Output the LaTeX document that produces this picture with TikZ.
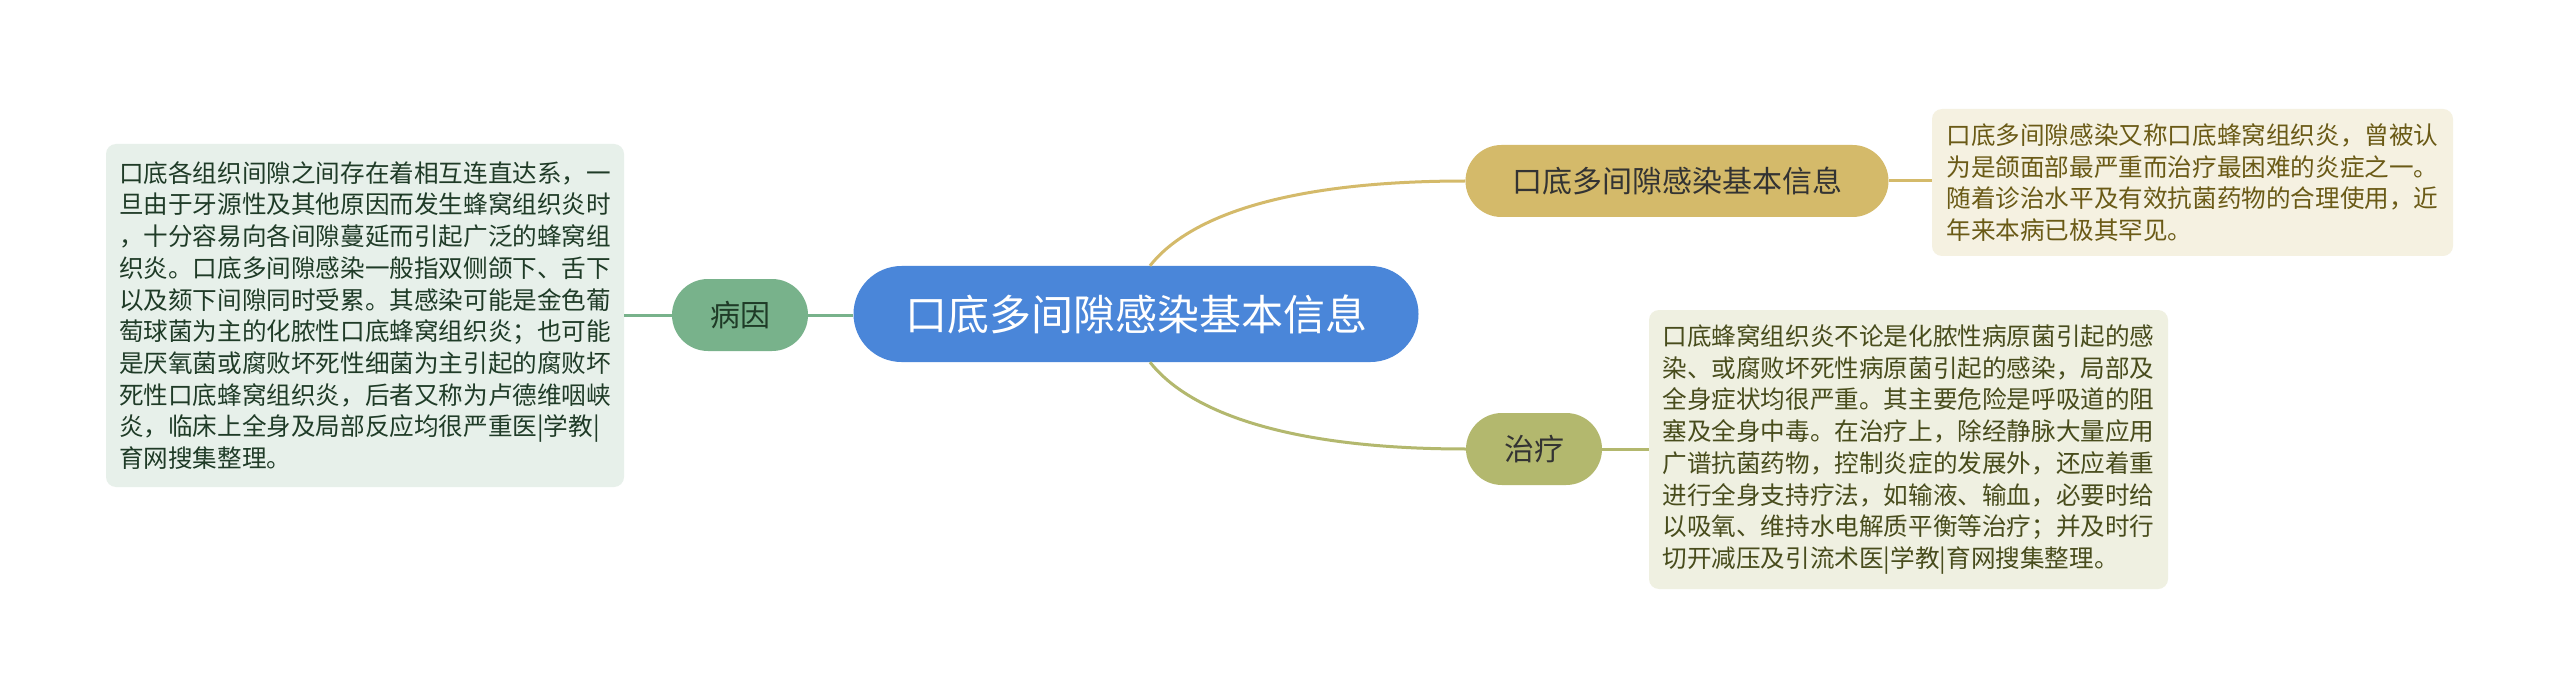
\documentclass[tikz,border=0pt]{standalone}
\usepackage{fontspec}
\setmainfont{Noto Sans CJK SC}
\usepackage{tikz}
\usetikzlibrary{positioning}

\definecolor{rootblue}{HTML}{4A86D9}
\definecolor{infogold}{HTML}{D4BA6A}
\definecolor{causegreen}{HTML}{78B28B}
\definecolor{treatolive}{HTML}{B3B86E}
\definecolor{causefill}{HTML}{E7F0EA}
\definecolor{infofill}{HTML}{F5F1E1}
\definecolor{treatfill}{HTML}{EFF0E1}
\definecolor{causeink}{HTML}{1F3B27}
\definecolor{infoink}{HTML}{6A5A16}
\definecolor{treatink}{HTML}{484C1C}

\begin{document}
\begin{tikzpicture}[x=1pt, y=-1pt,
    topic/.style={inner sep=0pt, font=\fontsize{30}{36}\selectfont},
    notebox/.style={rounded corners=10pt, inner sep=0pt, align=left,
        font=\fontsize{24.6}{31.7}\selectfont},
    link/.style={line width=3pt}]
            \useasboundingbox[fill=white] (0,0) rectangle (2560,695);
            % Nodes
            \node[fill=rootblue, text=white, rounded corners=48pt, inner sep=0pt,
                minimum width=565pt, minimum height=96pt,
                font=\fontsize{42}{50}\selectfont] (root) at (1136,314) {口底多间隙感染基本信息};
            \node[topic, fill=infogold, text=black!80, rounded corners=36pt,
                minimum width=423pt, minimum height=72pt] (info) at (1677,181) {口底多间隙感染基本信息};
            \node[topic, fill=causegreen, text=causeink, rounded corners=36pt,
                minimum width=136pt, minimum height=72pt] (cause) at (740,315) {病因};
            \node[topic, fill=treatolive, text=black!80, rounded corners=36pt,
                minimum width=136pt, minimum height=72pt] (treat) at (1534,449) {治疗};
            % Notes
            \node[notebox, fill=causefill, text=causeink, minimum width=518pt,
                minimum height=343pt] (causetext) at (365,315.5) {口底各组织间隙之间存在着相互连直达系，一\\
                旦由于牙源性及其他原因而发生蜂窝组织炎时\\
                ，十分容易向各间隙蔓延而引起广泛的蜂窝组\\
                织炎。口底多间隙感染一般指双侧颌下、舌下\\
                以及颏下间隙同时受累。其感染可能是金色葡\\
                萄球菌为主的化脓性口底蜂窝组织炎；也可能\\
                是厌氧菌或腐败坏死性细菌为主引起的腐败坏\\
                死性口底蜂窝组织炎，后者又称为卢德维咽峡\\
                炎，临床上全身及局部反应均很严重医|学教|\\
                育网搜集整理。};
            \node[notebox, fill=infofill, text=infoink, minimum width=521pt,
                minimum height=147pt] (infotext) at (2192.5,182.5) {口底多间隙感染又称口底蜂窝组织炎，曾被认\\
                为是颌面部最严重而治疗最困难的炎症之一。\\
                随着诊治水平及有效抗菌药物的合理使用，近\\
                年来本病已极其罕见。};
            \node[notebox, fill=treatfill, text=treatink, minimum width=519pt,
                minimum height=279pt] (treattext) at (1908.5,449.5) {口底蜂窝组织炎不论是化脓性病原菌引起的感\\
                染、或腐败坏死性病原菌引起的感染，局部及\\
                全身症状均很严重。其主要危险是呼吸道的阻\\
                塞及全身中毒。在治疗上，除经静脉大量应用\\
                广谱抗菌药物，控制炎症的发展外，还应着重\\
                进行全身支持疗法，如输液、输血，必要时给\\
                以吸氧、维持水电解质平衡等治疗；并及时行\\
                切开减压及引流术医|学教|育网搜集整理。};
            % Connections
            \draw[link, causegreen] (root.west |- cause.east) -- (cause.east);
            \draw[link, causegreen] (cause.west) -- (causetext.east |- cause.west);
            \draw[link, infogold] ([xshift=14pt]root.north) .. controls (1190,215) and (1290,181) .. (info.west);
            \draw[link, infogold] (info.east) -- (infotext.west |- info.east);
            \draw[link, treatolive] ([xshift=14pt]root.south) .. controls (1190,413) and (1290,449) .. (treat.west);
            \draw[link, treatolive] (treat.east) -- (treattext.west |- treat.east);
        \end{tikzpicture}
\end{document}
